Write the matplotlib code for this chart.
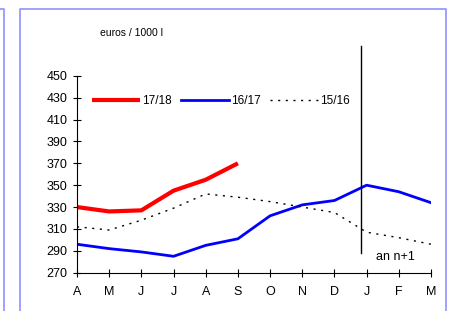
import matplotlib
matplotlib.use("Agg")
import matplotlib.pyplot as plt
from matplotlib.lines import Line2D

months = ["A", "M", "J", "J", "A", "S", "O", "N", "D", "J", "F", "M"]
s1718 = [330, 326, 327, 345, 355, 370]
s1617 = [296, 292, 289, 285, 295, 301, 322, 332, 336, 350, 344, 334]
s1516 = [312, 309, 318, 329, 342, 339, 335, 330, 325, 307, 302, 296]
yticks = [270, 290, 310, 330, 350, 370, 390, 410, 430, 450]

plt.rcParams['font.family'] = ['Liberation Sans', 'DejaVu Sans']

W, H = 452, 311
fig = plt.figure(figsize=(W / 100, H / 100), dpi=100)
ax = fig.add_axes([77 / W, 38.3 / H, (431 - 77) / W, (272.7 - 75.8) / H])

x = list(range(len(months)))
ax.plot(x[:len(s1718)], s1718, color="#ff0000", lw=3, label="17/18", solid_capstyle="butt")
ax.plot(x, s1617, color="#0000ff", lw=2, label="16/17")
ax.plot(x, s1516, color="black", lw=1, linestyle=(0, (1.5, 4)), label="15/16")

ax.set_xlim(0, 11)
ax.set_ylim(270, 450)
ax.set_xticks(x)
ax.set_xticklabels(months)
ax.set_yticks(yticks)
ax.tick_params(axis="both", direction="inout", length=5.5, width=0.8, labelsize=9)
ax.tick_params(axis="y", pad=4)
ax.tick_params(axis="x", pad=7)
for s in ["top", "right"]:
    ax.spines[s].set_visible(False)
for s in ["left", "bottom"]:
    ax.spines[s].set_linewidth(0.8)

# separator for following year
ax.plot([8.84, 8.84], [288, 477], color="black", lw=1, clip_on=False)
ax.text(9.88, 284, "an n+1", fontsize=9, ha="center", va="center")

leg = ax.legend(loc="center left", bbox_to_anchor=(0.042, 0.872), ncol=3, frameon=False,
                fontsize=8.5, handlelength=4.07, handletextpad=0.17, columnspacing=0.78,
                borderaxespad=0, borderpad=0)

fig.text(131 / W, 1 - 33 / H, "euros / 1000 l", fontsize=7.5, ha="center", va="center")

# frame lines
c = "#9999ff"
lw = 1.3
def fl(xs, ys):
    fig.add_artist(Line2D([v / W for v in xs], [1 - v / H for v in ys], color=c, lw=lw,
                          transform=fig.transFigure))
fl([0, 4, 4], [9, 9, 311])
fl([20.5, 20.5, 446, 446], [311, 9, 9, 311])

fig.savefig("out.png", dpi=100)
